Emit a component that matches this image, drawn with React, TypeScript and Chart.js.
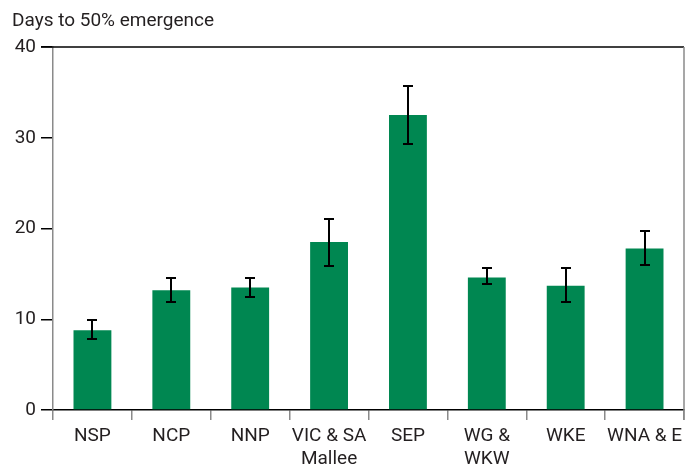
import React, { useEffect, useRef } from "react";
import { Chart, registerables } from "chart.js";

Chart.register(...registerables);

const categories: string[][] = [
  ["NSP"],
  ["NCP"],
  ["NNP"],
  ["VIC & SA", "Mallee"],
  ["SEP"],
  ["WG &", "WKW"],
  ["WKE"],
  ["WNA & E"],
];
const meanDays = [8.8, 13.2, 13.5, 18.5, 32.5, 14.6, 13.7, 17.8];
const errorLow = [7.8, 11.9, 12.4, 15.85, 29.3, 13.9, 11.9, 16.0];
const errorHigh = [9.9, 14.5, 14.5, 21.0, 35.7, 15.6, 15.6, 19.7];
const yTicks = [0, 10, 20, 30, 40];
const titleText = "Days to 50% emergence";

const FONT = "Roboto, 'Open Sans', sans-serif";
const TEXT = "#231f20";

const errorBarPlugin = {
  id: "errorBars",
  afterDatasetsDraw(chart: any) {
    const { ctx } = chart;
    const x = chart.scales.x;
    const y = chart.scales.y;
    ctx.save();
    ctx.strokeStyle = "#000";
    ctx.lineWidth = 2;
    for (let i = 0; i < meanDays.length; i++) {
      const px = Math.round(x.getPixelForValue(i));
      const yt = Math.round(y.getPixelForValue(errorHigh[i]));
      const yb = Math.round(y.getPixelForValue(errorLow[i]));
      ctx.beginPath();
      ctx.moveTo(px, yt);
      ctx.lineTo(px, yb);
      ctx.moveTo(px - 5, yt);
      ctx.lineTo(px + 5, yt);
      ctx.moveTo(px - 5, yb);
      ctx.lineTo(px + 5, yb);
      ctx.stroke();
    }
    ctx.restore();
  },
};

const framePlugin = {
  id: "frame",
  afterDraw(chart: any) {
    const { ctx, chartArea } = chart;
    ctx.save();
    ctx.lineWidth = 1.5;
    ctx.strokeStyle = "#000";
    ctx.beginPath();
    ctx.moveTo(chartArea.left - 12, chartArea.top);
    ctx.lineTo(chartArea.right, chartArea.top);
    ctx.stroke();
    ctx.strokeStyle = "#8a8a8a";
    ctx.beginPath();
    ctx.moveTo(chartArea.right, chartArea.top);
    ctx.lineTo(chartArea.right, chartArea.bottom + 10);
    ctx.stroke();
    ctx.fillStyle = TEXT;
    ctx.font = `19px ${FONT}`;
    ctx.textAlign = "left";
    ctx.textBaseline = "alphabetic";
    ctx.fillText(titleText, 12, 26);
    ctx.restore();
  },
};

export default function App() {
  const ref = useRef<HTMLCanvasElement>(null);
  useEffect(() => {
    if (!ref.current) return;
    const chart = new Chart(ref.current, {
      type: "bar",
      data: {
        labels: categories as any,
        datasets: [
          {
            data: meanDays,
            backgroundColor: "#008751",
            barPercentage: 0.48,
            categoryPercentage: 1,
          },
        ],
      },
      options: {
        animation: false,
        responsive: false,
        maintainAspectRatio: false,
        layout: { padding: { top: 47, right: 13, left: 1, bottom: 0 } },
        plugins: {
          legend: { display: false },
          tooltip: { enabled: false },
          title: { display: false },
        },
        scales: {
          x: {
            offset: true,
            grid: {
              offset: true,
              drawOnChartArea: false,
              drawTicks: true,
              tickLength: 10,
              color: "#8a8a8a",
              lineWidth: 1.5,
            },
            border: { color: "#000", width: 1.5 },
            ticks: {
              color: TEXT,
              font: { family: FONT, size: 19 },
              padding: 5,
              maxRotation: 0,
              autoSkip: false,
            },
            afterFit(scale: any) {
              scale.height = 60;
            },
          },
          y: {
            min: 0,
            max: 40,
            afterBuildTicks(scale: any) {
              scale.ticks = yTicks.map((v) => ({ value: v }));
            },
            grid: {
              drawOnChartArea: false,
              drawTicks: true,
              tickLength: 12,
              color: "#000",
              lineWidth: 1.5,
            },
            border: { color: "#8a8a8a", width: 1.5 },
            ticks: {
              color: TEXT,
              font: { family: FONT, size: 19 },
              padding: 5,
            },
            afterFit(scale: any) {
              scale.width = 52;
            },
          },
        },
      },
      plugins: [errorBarPlugin, framePlugin],
    });
    return () => chart.destroy();
  }, []);
  return (
    <div style={{ position: "fixed", left: 0, top: 0, width: 697, height: 470, background: "#fff" }}>
      <canvas ref={ref} width={697} height={470} style={{ width: 697, height: 470 }} />
    </div>
  );
}
